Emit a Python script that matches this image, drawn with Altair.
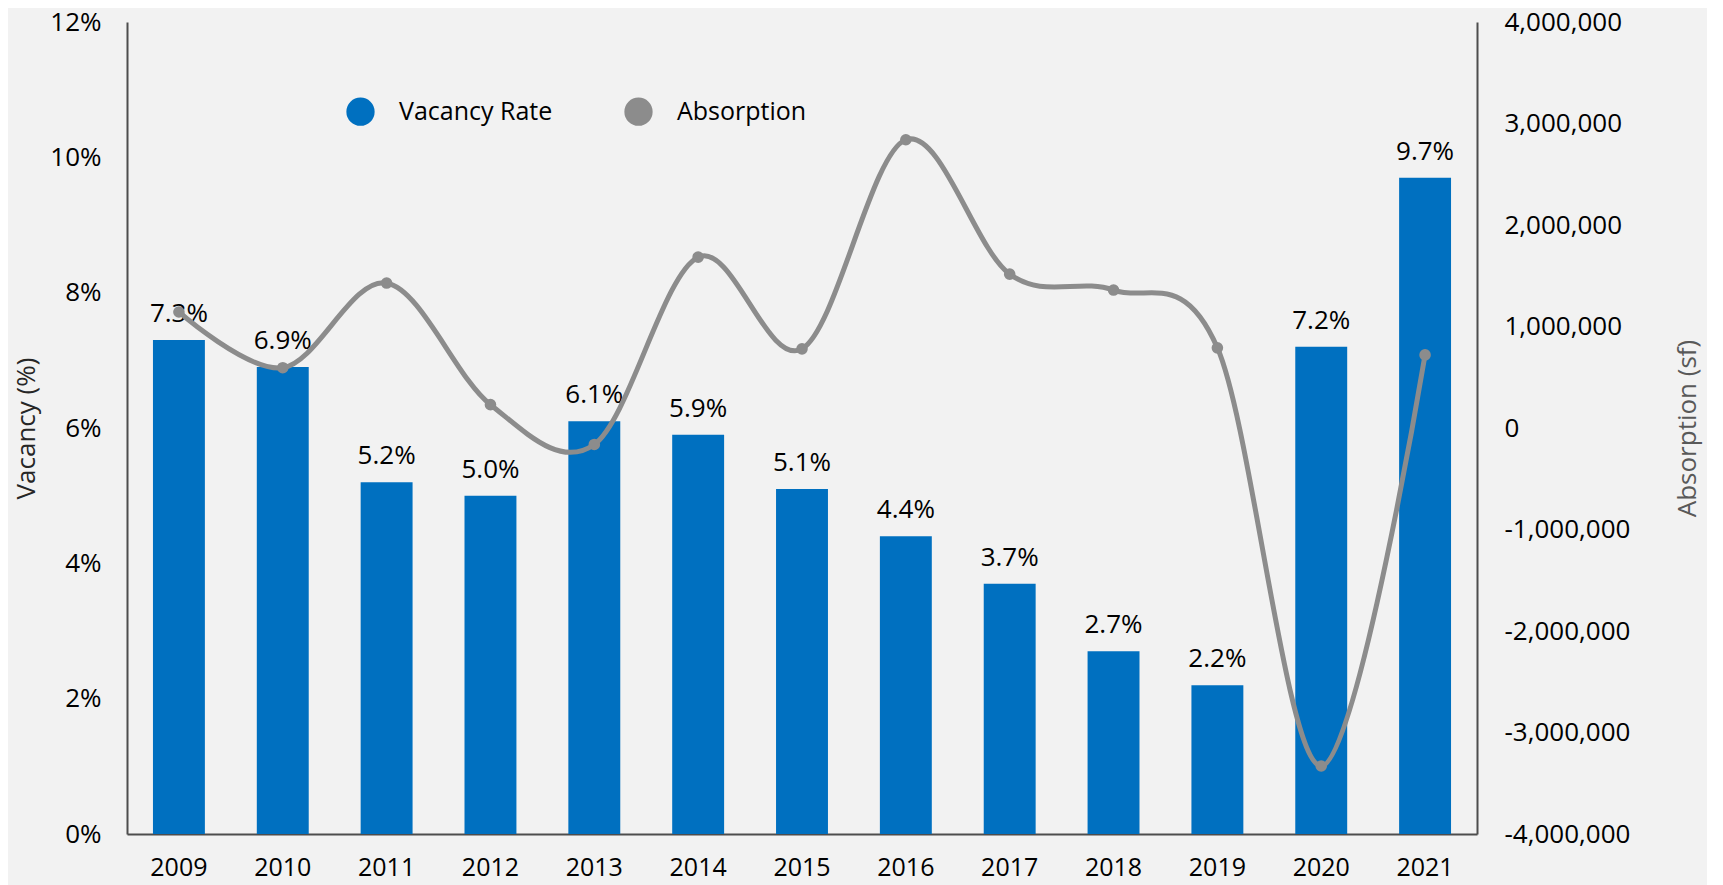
import altair as alt
import pandas as pd

years = ["2009", "2010", "2011", "2012", "2013", "2014", "2015",
         "2016", "2017", "2018", "2019", "2020", "2021"]
vacancy_pct = [7.3, 6.9, 5.2, 5.0, 6.1, 5.9, 5.1, 4.4, 3.7, 2.7, 2.2, 7.2, 9.7]
absorption_sf = [1143000, 594000, 1428000, 230000, -162000, 1683000, 780000,
                 2840000, 1516000, 1359000, 790000, -3330000, 720000]
series_names = ["Vacancy Rate", "Absorption"]
series_colors = ["#0070C0", "#8C8C8C"]

df = pd.DataFrame({
    "year": years,
    "vacancy": [v / 100 for v in vacancy_pct],
    "label": [f"{v:.1f}%" for v in vacancy_pct],
    "absorption": absorption_sf,
    "series": [series_names[0]] * len(years),
})

FONT = "Open Sans"
AX = "#4D4D4D"
H = 812

x_enc = alt.X(
    "year:N", sort=years,
    scale=alt.Scale(paddingInner=0.5, paddingOuter=0.25),
    axis=alt.Axis(title=None, labelAngle=0, labelFontSize=25, labelFont=FONT,
                  labelColor="#000000", labelPadding=21, ticks=False,
                  domainColor=AX, domainWidth=2),
)

left_y = alt.Y(
    "vacancy:Q",
    scale=alt.Scale(domain=[0, 0.12], nice=False),
    axis=alt.Axis(title="Vacancy (%)", format=".0%",
                  values=[0, 0.02, 0.04, 0.06, 0.08, 0.10, 0.12],
                  grid=False, ticks=False, domainColor=AX, domainWidth=2,
                  labelFontSize=26, labelFont=FONT, labelColor="#000000",
                  labelPadding=26, titleFont=FONT, titleFontSize=26,
                  titleFontWeight="normal", titleColor="#262626",
                  titleAngle=-90, titleX=-101, titleY=H / 2,
                  titleAlign="center", titleBaseline="middle"),
)

right_y = alt.Y(
    "absorption:Q",
    scale=alt.Scale(domain=[-4000000, 4000000], nice=False),
    axis=alt.Axis(title="Absorption (sf)", orient="right",
                  labelExpr="replace(format(datum.value, ',.0f'), '\u2212', '-')",
                  values=[-4000000, -3000000, -2000000, -1000000, 0,
                          1000000, 2000000, 3000000, 4000000],
                  grid=False, ticks=False, domainColor=AX, domainWidth=2,
                  labelFontSize=26, labelFont=FONT, labelColor="#000000",
                  labelPadding=27, titleFont=FONT, titleFontSize=26,
                  titleFontWeight="normal", titleColor="#595959",
                  titleAngle=-90, titleX=210, titleY=H / 2,
                  titleAlign="center", titleBaseline="middle"),
)

base_left = alt.Chart(df).encode(x=x_enc, y=left_y)

bars = base_left.mark_bar(color=series_colors[0]).encode(
    color=alt.Color(
        "series:N",
        scale=alt.Scale(domain=series_names, range=series_colors),
        legend=alt.Legend(
            title=None, orient="none", legendX=219, legendY=75,
            direction="horizontal", symbolType="circle", symbolSize=800,
            symbolStrokeWidth=0, labelFontSize=25, labelFont=FONT,
            labelColor="#000000", labelOffset=24, columnPadding=71,
        ),
    )
)

labels = base_left.mark_text(
    font=FONT, fontSize=26, color="#000000", baseline="alphabetic", dy=-18
).encode(text="label:N")

base_right = alt.Chart(df).encode(x=x_enc, y=right_y)

line = base_right.mark_line(
    color=series_colors[1], strokeWidth=5, interpolate="cardinal"
)
points = base_right.mark_point(
    filled=True, color=series_colors[1], size=135, opacity=1
)

chart = alt.layer(
    alt.layer(bars, labels),
    alt.layer(line, points),
).resolve_scale(y="independent").properties(
    width=1350, height=H,
    autosize=alt.AutoSizeParams(type="none"),
    padding={"left": 119, "top": 14, "right": 230, "bottom": 51},
    background="#F2F2F2",
).configure_view(stroke=None)

chart.save("out.html", embed_options={"renderer": "svg", "actions": False})
